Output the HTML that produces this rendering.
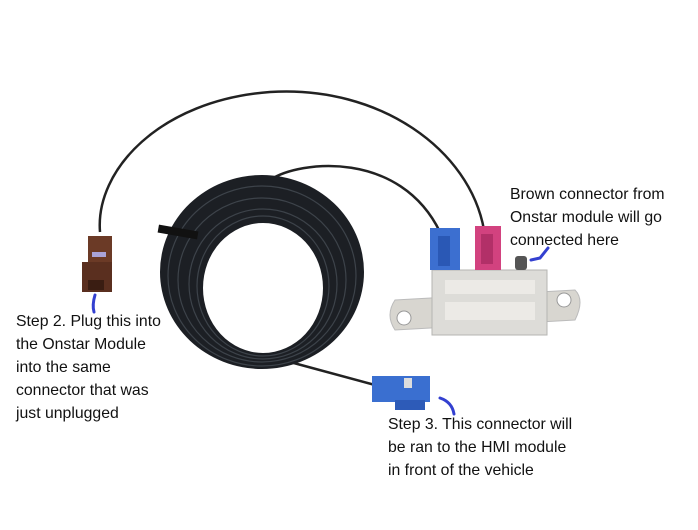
<!DOCTYPE html>
<html><head><style>
body{margin:0;width:698px;height:530px;background:#fff;overflow:hidden;position:relative;font-family:"Liberation Sans",sans-serif;}
.t{position:absolute;font-size:15.8px;line-height:23px;color:#111;white-space:nowrap}
svg{position:absolute;left:0;top:0}
</style></head><body>
<svg width="698" height="530">
<path d="M100,232 C95,170 160,100 270,92 C380,85 470,150 484,230" fill="none" stroke="#222" stroke-width="2.5"/>
<path d="M270,180 C300,160 400,150 440,232" fill="none" stroke="#222" stroke-width="2.5"/>
<path d="M290,362 C320,370 350,378 375,385" fill="none" stroke="#222" stroke-width="2.5"/>
<!-- coil -->
<path fill-rule="evenodd" fill="#1c1f24" d="M160,272 A102,97 0 1,0 364,272 A102,97 0 1,0 160,272 Z M203,288 A60,65 0 1,0 323,288 A60,65 0 1,0 203,288 Z"/>
<g fill="none" stroke="#3d434a" stroke-width="1.2">
<ellipse cx="262" cy="276" rx="94" ry="90"/>
<ellipse cx="262" cy="280" rx="84" ry="82"/>
<ellipse cx="263" cy="284" rx="74" ry="75"/>
<ellipse cx="263" cy="286" rx="66" ry="70"/>
</g>
<rect x="158" y="228" width="40" height="8" fill="#111" transform="rotate(10 178 232)"/>
<!-- brown connector -->
<rect x="88" y="236" width="24" height="28" fill="#6b3a26"/>
<rect x="82" y="262" width="30" height="30" fill="#5a2f1f"/>
<rect x="92" y="252" width="14" height="5" fill="#a9a3d8"/>
<rect x="88" y="280" width="16" height="10" fill="#3a1d12"/>
<!-- module -->
<path d="M395,300 L575,290 Q585,300 575,320 L395,330 Q385,315 395,300Z" fill="#d8d6d0" stroke="#bbb"/>
<circle cx="404" cy="318" r="7" fill="#fff" stroke="#999"/>
<circle cx="564" cy="300" r="7" fill="#fff" stroke="#999"/>
<rect x="432" y="270" width="115" height="65" fill="#dddcd8" stroke="#b5b5b2"/>
<rect x="445" y="280" width="90" height="14" fill="#eceae6"/>
<rect x="445" y="302" width="90" height="18" fill="#eceae6"/>
<rect x="430" y="228" width="30" height="42" fill="#3c6fd0"/>
<rect x="438" y="236" width="12" height="30" fill="#2a58b5"/>
<rect x="475" y="226" width="26" height="44" fill="#d2427f"/>
<rect x="481" y="234" width="12" height="30" fill="#b23068"/>
<rect x="515" y="256" width="12" height="14" fill="#555" rx="3"/>
<!-- HMI connector -->
<rect x="372" y="376" width="58" height="26" fill="#3a6fd0"/>
<rect x="395" y="400" width="30" height="10" fill="#2d5bb8"/>
<rect x="404" y="378" width="8" height="10" fill="#ddd"/>
<path d="M95,295 Q92,305 94,312" fill="none" stroke="#3340d0" stroke-width="3" stroke-linecap="round"/>
<path d="M531,260 L540,258 L548,248" fill="none" stroke="#3340d0" stroke-width="3" stroke-linecap="round"/>
<path d="M440,398 Q452,402 454,414" fill="none" stroke="#3340d0" stroke-width="3" stroke-linecap="round"/>
</svg>
<div class="t" style="left:510px;top:183px">Brown connector from<br>Onstar module will go<br>connected here</div>
<div class="t" style="left:16px;top:310px">Step 2. Plug this into<br>the Onstar Module<br>into the same<br>connector that was<br>just unplugged</div>
<div class="t" style="left:388px;top:413px">Step 3. This connector will<br>be ran to the HMI module<br>in front of the vehicle</div>
</body></html>
